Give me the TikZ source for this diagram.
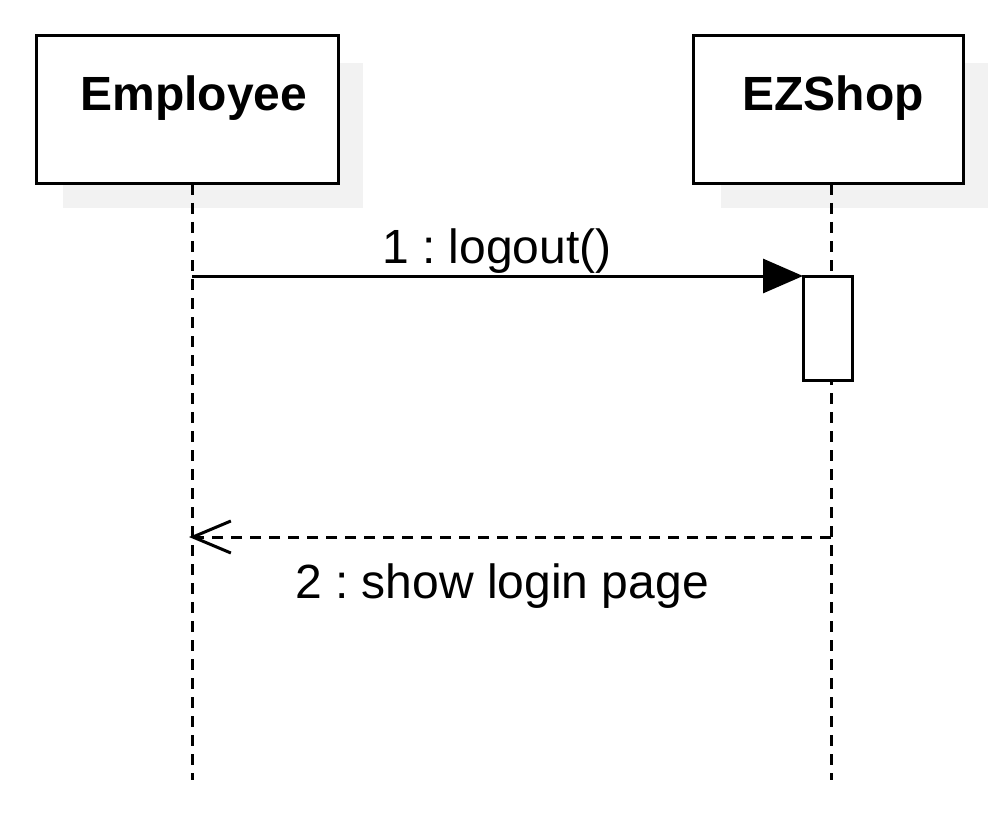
\documentclass[tikz,border=0pt]{standalone}
\usepackage{fontspec}
\setmainfont{Liberation Sans}
\usetikzlibrary{arrows.meta}
\frenchspacing
\begin{document}
\begin{tikzpicture}[x=1pt,y=-1pt,
  objbox/.style={draw,line width=3pt,fill=white,inner sep=0pt},
  objtext/.style={font=\bfseries\fontsize{48}{50}\selectfont,anchor=base,inner sep=0pt},
  msgtext/.style={font=\fontsize{48}{50}\selectfont,anchor=base,inner sep=0pt},
  lifeline/.style={line width=3pt,dash pattern=on 11pt off 8pt},
  actbox/.style={draw,line width=3pt,fill=white,inner sep=0pt,outer sep=0pt,minimum width=49pt,minimum height=104pt},
  callmsg/.style={line width=3pt,-{Triangle[length=40pt,width=34pt]}},
  retmsg/.style={line width=3pt,dash pattern=on 11pt off 8pt,-{Straight Barb[length=38pt,width=32pt,line width=3pt]}}]
\useasboundingbox (0,0) rectangle (1000,818);
% shadows
\fill[black!5] (63,63) rectangle (363,208);
\fill[black!5] (721,63) rectangle (988,208);
% object boxes
\node[objbox,minimum width=302pt,minimum height=148pt] (emp) at (187.5,110) {};
\node[objbox,minimum width=270pt,minimum height=148pt] (ez) at (828.5,110) {};
\node[objtext] (empt) at (194,111) {Employee};
\node[objtext] (ezt) at (833,111) {EZShop};
% lifelines
\coordinate (empTop) at (192,184);
\coordinate (empEnd) at (192,780);
\coordinate (ezTop) at (831,184);
\coordinate (ezEnd) at (831,780);
\draw[lifeline] (empTop) -- (empEnd);
\draw[lifeline] (ezTop) -- (ezEnd);
% activation
\node[actbox] (act) at (827.5,328) {};
% message 1
\coordinate (m1s) at (192,276);
\draw[callmsg] (m1s) -- (m1s -| act.west);
\node[msgtext] (m1t) at (497,263) {1 : logout()};
% message 2
\coordinate (m2s) at (831,537);
\coordinate (m2e) at (189,537);
\draw[retmsg] (m2s) -- (m2e);
\node[msgtext] (m2t) at (502,598) {2 : show login page};
\end{tikzpicture}
\end{document}
